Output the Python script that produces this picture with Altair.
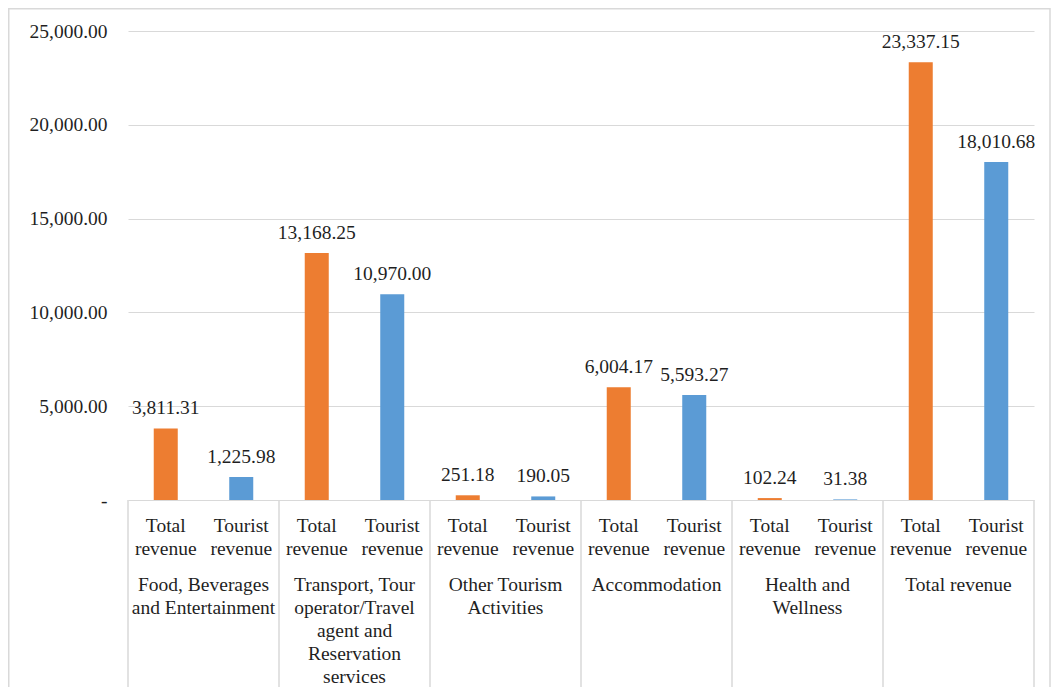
import altair as alt
import pandas as pd

groups = [
    "Food, Beverages and Entertainment",
    "Transport, Tour operator/Travel agent and Reservation services",
    "Other Tourism Activities",
    "Accommodation",
    "Health and Wellness",
    "Total revenue",
]
group_labels = [
    "Food, Beverages\nand Entertainment",
    "Transport, Tour\noperator/Travel\nagent and\nReservation\nservices",
    "Other Tourism\nActivities",
    "Accommodation",
    "Health and\nWellness",
    "Total revenue",
]
series = ["Total revenue", "Tourist revenue"]
series_labels = ["Total\nrevenue", "Tourist\nrevenue"]
series_colors = ["#ED7D31", "#5B9BD5"]
total_revenue = [3811.31, 13168.25, 251.18, 6004.17, 102.24, 23337.15]
tourist_revenue = [1225.98, 10970.00, 190.05, 5593.27, 31.38, 18010.68]
y_ticks = [0, 5000, 10000, 15000, 20000, 25000]

rows = []
for g, gl, tv, tr in zip(groups, group_labels, total_revenue, tourist_revenue):
    for s, sl, v in zip(series, series_labels, [tv, tr]):
        rows.append({"key": g + "|" + s, "group": g, "series": s,
                     "sublabel": sl, "value": v})
bars_df = pd.DataFrame(rows)
keys = list(bars_df["key"])
groups_df = pd.DataFrame({"group": groups, "glabel": group_labels})
last_df = groups_df.tail(1)

FONT = "Liberation Serif"
FS = 19.5
TXT = "#1f1f1f"
GRID = "#d9d9d9"
W, H = 906, 469

xbar = alt.X("key:N", sort=keys, axis=None,
             scale=alt.Scale(domain=keys, paddingInner=0.682, paddingOuter=0.341))
xgrp_scale = alt.Scale(domain=groups, paddingInner=0, paddingOuter=0)
yscale = alt.Scale(domain=[0, 25000], nice=False)

base = alt.Chart(bars_df)

bars = base.mark_bar().encode(
    x=xbar,
    y=alt.Y("value:Q", scale=yscale, title=None,
            axis=alt.Axis(values=y_ticks, grid=True, gridColor=GRID, domain=False,
                          ticks=False, labelPadding=21, labelFont=FONT,
                          labelFontSize=FS, labelColor=TXT,
                          labelExpr="datum.value == 0 ? '-\u00a0\u00a0' : format(datum.value, ',.2f')")),
    color=alt.Color("series:N", scale=alt.Scale(domain=series, range=series_colors), legend=None),
)

bar_labels = base.mark_text(font=FONT, fontSize=FS, color=TXT, align="center",
                            baseline="alphabetic", dy=-14).encode(
    x=xbar,
    y=alt.Y("value:Q", scale=yscale),
    text=alt.Text("value:Q", format=",.2f"),
)

sub_labels = base.mark_text(font=FONT, fontSize=FS, color=TXT, align="center",
                            baseline="alphabetic", lineBreak="\n", lineHeight=23).encode(
    x=xbar,
    y=alt.value(501),
    text="sublabel:N",
)

grp_labels = alt.Chart(groups_df).mark_text(font=FONT, fontSize=FS, color=TXT, align="center",
                                            baseline="alphabetic", lineBreak="\n",
                                            lineHeight=23).encode(
    x=alt.X("group:N", sort=groups, axis=None, scale=xgrp_scale),
    y=alt.value(560),
    text="glabel:N",
)

seps = alt.Chart(groups_df).mark_rule(color=GRID, strokeWidth=1.5).encode(
    x=alt.X("group:N", sort=groups, axis=None, scale=xgrp_scale, bandPosition=0),
    y=alt.value(469),
    y2=alt.value(658),
)

sep_end = alt.Chart(last_df).mark_rule(color=GRID, strokeWidth=1.5).encode(
    x=alt.X("group:N", axis=None, scale=xgrp_scale, bandPosition=1),
    y=alt.value(469),
    y2=alt.value(658),
)

border = alt.Chart(pd.DataFrame({"b": [0]})).mark_rect(
    fill="transparent", stroke=GRID, strokeWidth=1.5).encode(
    x=alt.value(-119.25),
    x2=alt.value(922),
    y=alt.value(-22.25),
    y2=alt.value(700),
)

chart = alt.layer(border, bars, bar_labels, sub_labels, grp_labels, seps, sep_end).resolve_scale(
    x="independent"
).properties(
    width=W, height=H,
    autosize=alt.AutoSizeParams(type="none"),
    padding={"left": 120, "top": 23, "right": 17, "bottom": 187},
    background="white",
).configure_view(stroke=None)

chart.save("out.html", embed_options={"renderer": "svg", "actions": False})
